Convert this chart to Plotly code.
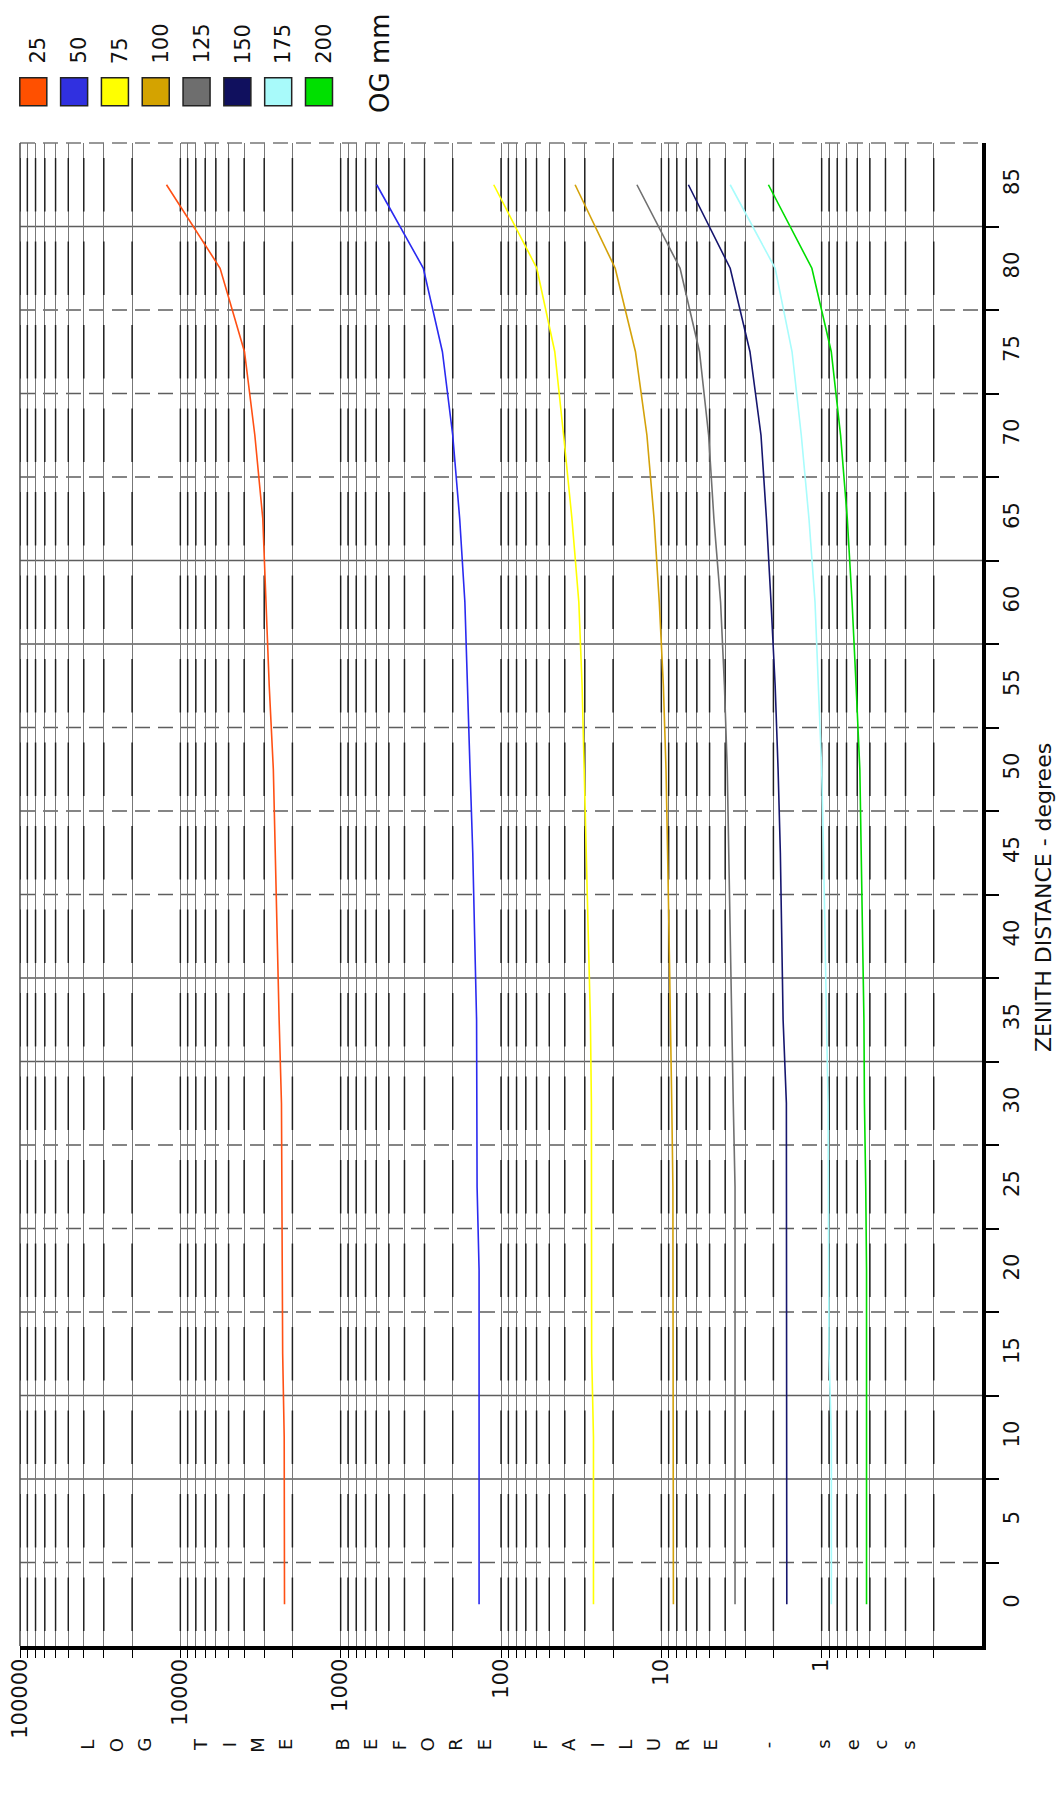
import math
import plotly.graph_objects as go

# ---------------- data ----------------
zenith = [0, 5, 10, 15, 20, 25, 30, 35, 40, 45, 50, 55, 60, 65, 70, 75, 80, 85]
og_mm = [25, 50, 75, 100, 125, 150, 175, 200]

t_25 = [2240, 2250, 2250, 2300, 2320, 2320, 2340, 2420, 2480, 2540, 2630, 2790, 2930, 3060, 3430, 3980, 5650, 12200]
t_50 = [137, 137, 137, 137, 137, 141, 142, 142, 146, 150, 156, 162, 168, 181, 200, 232, 305, 596]
t_75 = [26.5, 26.5, 26.5, 27.2, 27.2, 27.2, 27.3, 27.7, 28.5, 29.2, 30.1, 31.2, 32.7, 36.1, 40.7, 46.2, 59.8, 111]
t_100 = [8.41, 8.41, 8.41, 8.41, 8.41, 8.47, 8.61, 8.75, 8.95, 9.14, 9.35, 9.71, 10.3, 11.1, 12.3, 14.5, 19.4, 34.5]
t_125 = [3.47, 3.47, 3.47, 3.47, 3.47, 3.47, 3.56, 3.63, 3.70, 3.77, 3.88, 4.04, 4.27, 4.70, 5.07, 5.78, 7.64, 14.2]
t_150 = [1.65, 1.65, 1.65, 1.66, 1.66, 1.66, 1.66, 1.74, 1.77, 1.81, 1.87, 1.95, 2.07, 2.21, 2.39, 2.80, 3.72, 6.78]
t_175 = [0.87, 0.87, 0.87, 0.90, 0.905, 0.91, 0.912, 0.933, 0.951, 0.973, 1.0, 1.047, 1.10, 1.20, 1.34, 1.53, 1.95, 3.72]
t_200 = [0.525, 0.525, 0.525, 0.525, 0.525, 0.531, 0.541, 0.545, 0.555, 0.565, 0.578, 0.610, 0.646, 0.692, 0.762, 0.871, 1.151, 2.148]
series = [t_25, t_50, t_75, t_100, t_125, t_150, t_175, t_200]

line_colors = ["#FF5014", "#2a2af0", "#FFFF00", "#D4A20A", "#707070", "#16166e", "#A8FCFC", "#00DD00"]
swatch_colors = ["#FF5000", "#3030E0", "#FFFF00", "#D4A300", "#6E6E6E", "#10105E", "#A8FAFA", "#00E000"]

major_t = [100000, 10000, 1000, 100, 10, 1]
major_lbl = ["100000", "10000", "1000", "100", "10", "1"]
minor_t = [m * 10.0 ** k for k in range(-1, 5) for m in range(2, 10)]
zen_ticks = list(range(0, 90, 5))
zen_grid = [2.5 + 5 * k for k in range(17)]
zen_grid_style = ["dash", "solid", "solid", "dash", "dash", "dash", "solid", "solid", "dash",
                  "dash", "dash", "solid", "solid", "dash", "dash", "dash", "solid"]

y_title = "LOG TIME BEFORE FAILURE - secs"
x_title = "ZENITH DISTANCE - degrees"

# ---------------- layout geometry (page pixels) ----------------
OFF = 8                       # default body margin of the html page
W, H = 1064 - 2 * OFF, 1810 - 2 * OFF
PL, PR, PT, PB = 20, 981.7, 143.2, 1646.2   # plot box in page pixels
L, T = PL - OFF, PT - OFF
R, B = W - (PR - OFF), H - (PB - OFF)
PW, PH = W - L - R, H - T - B
FONT = "DejaVu Sans"


def px(x):
    return (x - OFF - L) / PW


def py(y):
    return (H - B - (y - OFF)) / PH


fig = go.Figure()

# dark blotches on the vertical log grid lines (moire of the original scan)
bx, by = [], []
for tv in major_t + minor_t:
    if tv <= 0.1:
        continue
    for z in zen_ticks:
        bx += [tv, tv, None]
        by += [z + 1.6, z - 1.6, None]
fig.add_trace(go.Scatter(x=bx, y=by, mode="lines", line=dict(color="rgba(15,15,15,0.85)", width=1.5),
                         hoverinfo="skip", showlegend=False))

for vals, col, size in zip(series, line_colors, og_mm):
    fig.add_trace(go.Scatter(x=vals, y=zenith, mode="lines", name=str(size),
                             line=dict(color=col, width=1.6), showlegend=False))

shapes = []
for zg, st in zip(zen_grid, zen_grid_style):
    shapes.append(dict(type="line", xref="paper", yref="y", x0=0, x1=1, y0=zg, y1=zg,
                       line=dict(color="#5e5e5e", width=1.4, dash="15px,8px" if st == "dash" else "solid"),
                       layer="below"))
shapes.append(dict(type="line", xref="paper", yref="paper", x0=0, x1=1, y0=1, y1=1,
                   line=dict(color="#777", width=1.4, dash="15px,8px"), layer="below"))
shapes.append(dict(type="line", xref="paper", yref="paper", x0=0, x1=0, y0=0, y1=1,
                   line=dict(color="#555", width=1.6), layer="below"))

annotations = []
for i, (size, col) in enumerate(zip(og_mm, swatch_colors)):
    cx = 33.3 + i * 40.8
    shapes.append(dict(type="rect", xref="paper", yref="paper",
                       x0=px(cx - 13.5), x1=px(cx + 13.5), y0=py(106), y1=py(78),
                       fillcolor=col, line=dict(color="#222", width=1.5)))
    annotations.append(dict(text=str(size), x=px(cx + 5), y=py(66), xref="paper", yref="paper",
                            xanchor="center", yanchor="bottom", textangle=-90, showarrow=False,
                            font=dict(family=FONT, size=21, color="#111")))
annotations.append(dict(text="OG mm", x=px(380), y=py(63), xref="paper", yref="paper",
                        xanchor="center", yanchor="middle", textangle=-90, showarrow=False,
                        font=dict(family=FONT, size=26, color="#111")))
annotations.append(dict(text=x_title, x=px(1043), y=py(898), xref="paper", yref="paper",
                        xanchor="center", yanchor="middle", textangle=-90, showarrow=False,
                        font=dict(family=FONT, size=22, color="#111")))
# time-axis tick labels placed on the log axis
for tv, lbl in zip(major_t, major_lbl):
    annotations.append(dict(text=lbl, x=math.log10(tv), xref="x", y=py(1657), yref="paper",
                            xanchor="center", yanchor="top", textangle=-90, showarrow=False,
                            font=dict(family=FONT, size=21, color="#111")))
for i, ch in enumerate(y_title):
    if ch == " ":
        continue
    annotations.append(dict(text=ch, x=px(88 + i * 28.3), y=py(1745), xref="paper", yref="paper",
                            xanchor="center", yanchor="middle", textangle=-90, showarrow=False,
                            font=dict(family=FONT, size=18, color="#111")))

fig.update_layout(
    width=W, height=H, margin=dict(l=L, r=R, t=T, b=B, pad=0, autoexpand=False),
    paper_bgcolor="white", plot_bgcolor="white",
    shapes=shapes, annotations=annotations, showlegend=False,
    xaxis=dict(type="log", range=[5, -1], autorange=False,
               tickmode="array", tickvals=major_t, showticklabels=False,
               ticks="outside", ticklen=8, tickwidth=1.3, tickcolor="black",
               showline=True, linecolor="black", linewidth=4,
               showgrid=True, gridcolor="#777", gridwidth=1.3, zeroline=False,
               minor=dict(tickmode="array", tickvals=minor_t, ticks="outside", ticklen=8,
                          tickwidth=1.3, tickcolor="black", showgrid=True,
                          gridcolor="#777", gridwidth=1.3)),
    yaxis=dict(side="right", range=[-2.5, 87.5], autorange=False,
               tickmode="array", tickvals=zen_ticks, tickangle=-90, ticks="",
               ticklabelstandoff=8,
               tickfont=dict(family=FONT, size=21, color="#111"),
               showline=True, linecolor="black", linewidth=4, showgrid=False, zeroline=False,
               minor=dict(tickmode="array", tickvals=zen_grid, ticks="outside", ticklen=13,
                          tickwidth=1.5, tickcolor="black", showgrid=False)),
)

fig.write_html("out.html")
